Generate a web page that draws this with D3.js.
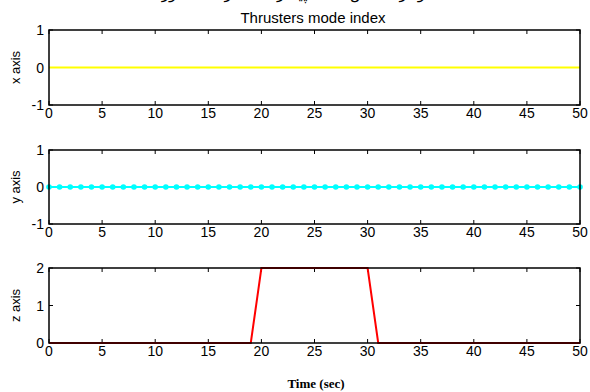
<!DOCTYPE html>
<html>
<head>
<meta charset="utf-8">
<script src="https://cdn.jsdelivr.net/npm/d3@7"></script>
<style>
  html, body { margin: 0; padding: 0; background: #fff; }
  svg { display: block; }
  text { font-family: "Liberation Sans", Arial, sans-serif; }
</style>
</head>
<body>
<svg id="chart" width="590" height="392"></svg>
<script>
// Time samples (s) and thruster mode index per axis
const time = [0,1,2,3,4,5,6,7,8,9,10,11,12,13,14,15,16,17,18,19,20,21,22,23,24,25,26,27,28,29,30,31,32,33,34,35,36,37,38,39,40,41,42,43,44,45,46,47,48,49,50];
const xMode = [0,0,0,0,0,0,0,0,0,0,0,0,0,0,0,0,0,0,0,0,0,0,0,0,0,0,0,0,0,0,0,0,0,0,0,0,0,0,0,0,0,0,0,0,0,0,0,0,0,0,0];
const yMode = [0,0,0,0,0,0,0,0,0,0,0,0,0,0,0,0,0,0,0,0,0,0,0,0,0,0,0,0,0,0,0,0,0,0,0,0,0,0,0,0,0,0,0,0,0,0,0,0,0,0,0];
const zMode = [0,0,0,0,0,0,0,0,0,0,0,0,0,0,0,0,0,0,0,0,2,2,2,2,2,2,2,2,2,2,2,0,0,0,0,0,0,0,0,0,0,0,0,0,0,0,0,0,0,0,0];

const xTicks = [0,5,10,15,20,25,30,35,40,45,50];
const yTicksXY = [-1,0,1];
const yTicksZ = [0,1,2];

const panels = [
  { label: "x axis", values: xMode, domain: [-1, 1], ticks: yTicksXY, color: "#ffff00", markers: false, top: 30, bottom: 105 },
  { label: "y axis", values: yMode, domain: [-1, 1], ticks: yTicksXY, color: "#00ffff", markers: true,  top: 150, bottom: 224 },
  { label: "z axis", values: zMode, domain: [0, 2],  ticks: yTicksZ,  color: "#ff0000", markers: false, top: 268, bottom: 343 }
];

const svg = d3.select("#chart");
const left = 49, right = 580;
const x = d3.scaleLinear().domain([0, 50]).range([left, right]);

// Caption line above the figure (runs off the top edge of the page)
svg.append("text")
  .attr("x", 300).attr("y", -1)
  .attr("text-anchor", "middle")
  .style("font-family", "'DejaVu Sans', 'Noto Sans', sans-serif")
  .style("font-size", "15px")
  .attr("direction", "rtl")
  .text("نمودار شاخص حالت پیشرانه ها در سه محور");

svg.append("text")
  .attr("x", 313).attr("y", 23)
  .attr("text-anchor", "middle")
  .style("font-size", "15px")
  .text("Thrusters mode index");

panels.forEach(p => {
  const y = d3.scaleLinear().domain(p.domain).range([p.bottom, p.top]);
  const g = svg.append("g");
  const tl = 4;

  // inward ticks on all four sides
  const tickG = g.append("g").attr("stroke", "#000").attr("stroke-width", 1);
  xTicks.forEach(t => {
    tickG.append("line").attr("x1", x(t)).attr("x2", x(t)).attr("y1", p.bottom).attr("y2", p.bottom - tl);
    tickG.append("line").attr("x1", x(t)).attr("x2", x(t)).attr("y1", p.top).attr("y2", p.top + tl);
  });
  p.ticks.forEach(t => {
    tickG.append("line").attr("x1", left).attr("x2", left + tl).attr("y1", y(t)).attr("y2", y(t));
    tickG.append("line").attr("x1", right).attr("x2", right - tl).attr("y1", y(t)).attr("y2", y(t));
  });

  // data line
  const line = d3.line().x((d, i) => x(time[i])).y(d => y(d));
  g.append("path")
    .datum(p.values)
    .attr("fill", "none")
    .attr("stroke", p.color)
    .attr("stroke-width", 2)
    .attr("d", line);

  if (p.markers) {
    g.selectAll("circle.m")
      .data(p.values)
      .join("circle")
      .attr("cx", (d, i) => x(time[i]))
      .attr("cy", d => y(d))
      .attr("r", 2.8)
      .attr("fill", p.color);
  }

  // box
  g.append("rect")
    .attr("x", left).attr("y", p.top)
    .attr("width", right - left).attr("height", p.bottom - p.top)
    .attr("fill", "none").attr("stroke", "#000").attr("stroke-width", 1.5);

  // tick labels
  xTicks.forEach(t => {
    g.append("text")
      .attr("x", x(t)).attr("y", p.bottom + 13)
      .attr("text-anchor", "middle")
      .style("font-size", "14px")
      .text(t);
  });
  p.ticks.forEach(t => {
    g.append("text")
      .attr("x", left - 5).attr("y", y(t) + 5)
      .attr("text-anchor", "end")
      .style("font-size", "14px")
      .text(t);
  });

  // axis label
  const cy = (p.top + p.bottom) / 2;
  g.append("text")
    .attr("transform", `translate(20,${cy}) rotate(-90)`)
    .attr("text-anchor", "middle")
    .style("font-size", "13px")
    .text(p.label);
});

svg.append("text")
  .attr("x", 316).attr("y", 388)
  .attr("text-anchor", "middle")
  .style("font-family", "'Liberation Serif', 'Times New Roman', serif")
  .style("font-weight", "bold")
  .style("font-size", "13px")
  .text("Time (sec)");
</script>
</body>
</html>
